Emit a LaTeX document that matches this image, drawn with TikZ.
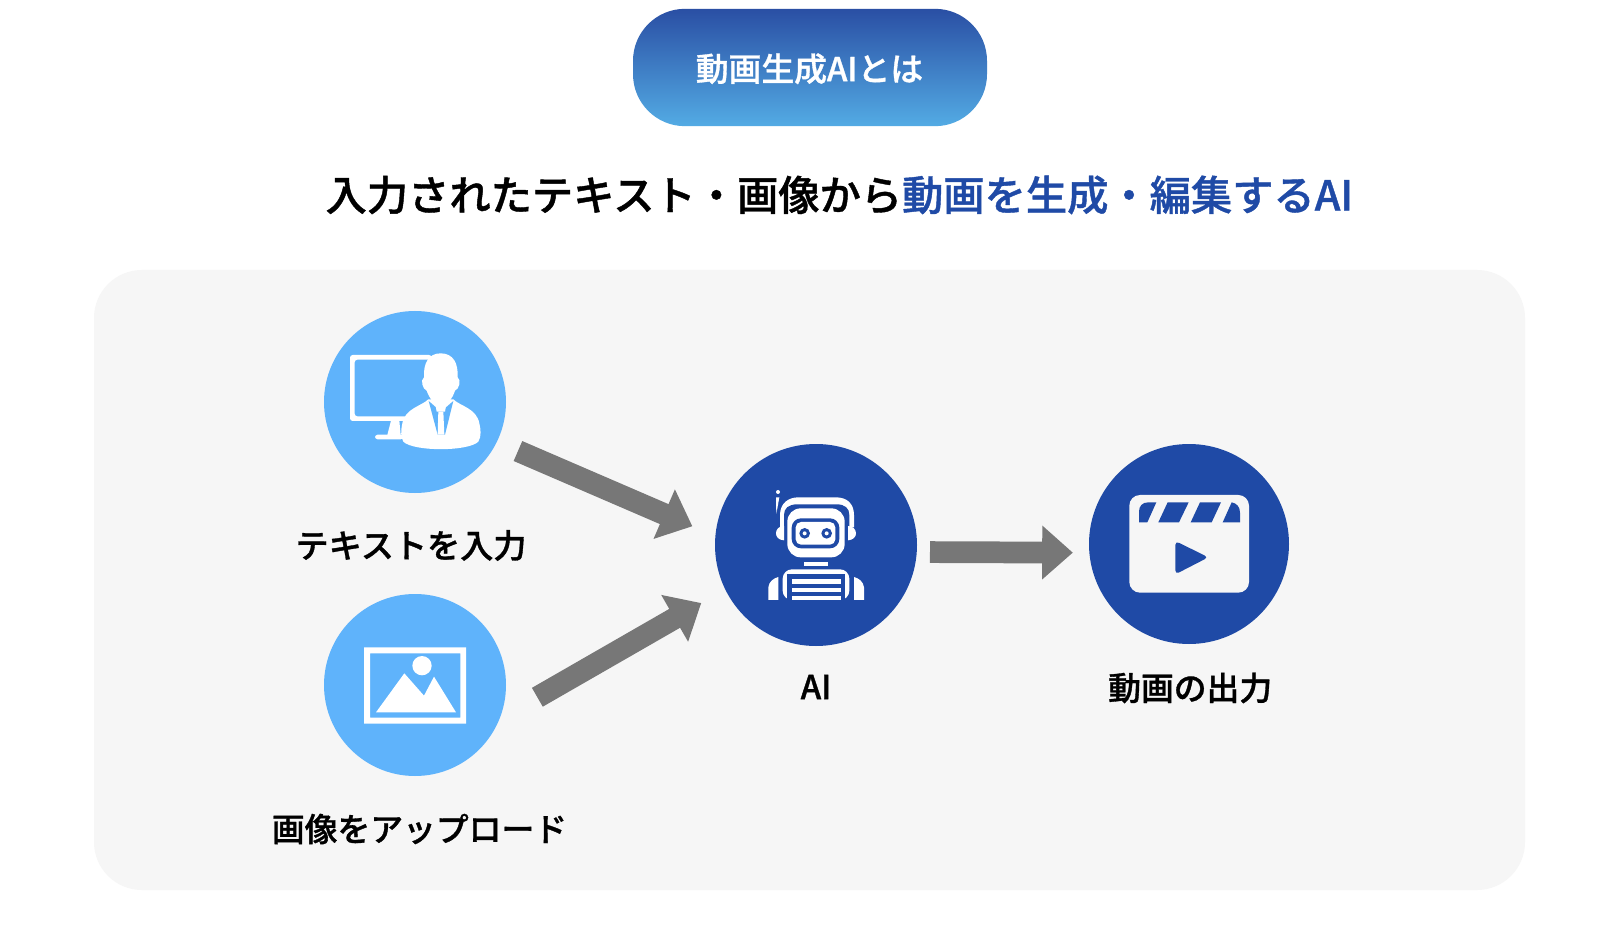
\documentclass[tikz,border=0pt]{standalone}
\usepackage{fontspec}
\setmainfont{Noto Sans CJK JP}[BoldFont={Noto Sans CJK JP Medium},BoldFeatures={FakeBold=1}]
\usetikzlibrary{arrows.meta}
\definecolor{navy}{HTML}{1F4AA6}
\definecolor{sky}{HTML}{5FB3FB}
\definecolor{panel}{HTML}{F6F6F6}
\definecolor{arrowgray}{HTML}{777777}
\definecolor{pilltop}{HTML}{2A4FA4}
\definecolor{pillbot}{HTML}{53ABE4}
\definecolor{titleblue}{HTML}{1F4AA6}
\newcommand{\jpsize}[1]{\fontsize{#1}{#1}\selectfont\bfseries}
\tikzset{
  x=0.75pt,y=-0.75pt,
  disc/.style={circle,inner sep=0pt,outer sep=0pt,draw=none,minimum size=#1*0.75pt},
  lbl/.style={inner sep=0pt,font=\jpsize{24.6pt},text=black},
  bigarrow/.style={draw=arrowgray,line width=16.3pt,-{Triangle[length=23pt,width=39pt]}},
  ico/.style={fill=white,draw=none},
}
\begin{document}
\begin{tikzpicture}
\useasboundingbox (0,0) rectangle (1604,934);
\fill[white] (0,0) rectangle (1604,934);
\fill[panel,rounded corners=36pt] (94,270) rectangle (1525,890);

\node[rounded corners=39pt,top color=pilltop,bottom color=pillbot,minimum width=265.5pt,minimum height=88pt,inner sep=0pt] (pill) at (810,67.5) {};
\node[inner sep=0pt,text=white,font=\jpsize{24.6pt}] (pilltext) at (809.5,68.8) {動画生成AIとは};

\node[inner sep=0pt,font=\jpsize{30.95pt},text=black] (title) at (839.4,195) {入力されたテキスト・画像から\textcolor{titleblue}{動画を生成・編集するAI}};

\node[disc=182,fill=sky] (txt) at (415,402) {};
\node[disc=182,fill=sky] (img) at (415,685) {};
\node[disc=202,fill=navy] (ai) at (816,545) {};
\node[disc=200,fill=navy] (vid) at (1189,544) {};

\node[lbl,font=\jpsize{24.85pt}] (ltxt) at (411,545.5) {テキストを入力};
\node[lbl] (limg) at (419.5,829) {画像をアップロード};
\node[lbl] (lai) at (816,687) {AI};
\node[lbl] (lvid) at (1190.2,688) {動画の出力};

\draw[bigarrow,shorten <=17.3pt,shorten >=18.8pt] (txt.-26.7) -- (ai.175.2);
\draw[bigarrow,shorten <=32.85pt,shorten >=20.74pt] (img.-22.7) -- (ai.206.6);
\draw[bigarrow,shorten <=9.93pt,shorten >=12.4pt] (ai.-4.5) -- (vid.185.2);

% person at monitor icon
\begin{scope}[shift={(310,300)},scale=1/3]
 \fill[ico,rounded corners=2pt,even odd rule] (120,165) rectangle (365,363) (134,179) rectangle (365,349);
 \fill[ico] (243,362) -- (268,362) -- (272,405) -- (232,405) -- cycle;
 \fill[ico,rounded corners=2pt] (195,404) rectangle (280,418);
 \fill[ico] (355,298) .. controls (335,318) and (285,325) .. (277,370) .. controls (272,395) and (272,410) .. (280,425) .. controls (310,455) and (475,455) .. (505,425) .. controls (515,410) and (512,385) .. (508,370) .. controls (500,325) and (450,318) .. (430,298) -- cycle;
 \fill[ico] (392,160) .. controls (355,160) and (340,190) .. (342,232) .. controls (330,240) and (338,268) .. (350,272) .. controls (358,295) and (375,318) .. (392,320) .. controls (410,318) and (428,295) .. (435,272) .. controls (447,268) and (455,240) .. (443,232) .. controls (445,190) and (430,160) .. (392,160) -- cycle;
 \fill[sky] (356,303) -- (378,322) -- (392,330) -- (408,322) -- (430,303) -- (405,404) -- (383,404) -- cycle;
 \fill[ico] (377,318) -- (392,324) -- (408,318) -- (405,335) -- (380,335) -- cycle;
 \fill[ico] (385,335) -- (400,335) -- (403,404) -- (383,404) -- cycle;
\end{scope}

% picture icon
\begin{scope}[shift={(310,585)},scale=1/3]
 \fill[ico,even odd rule] (162,187) rectangle (468,416) (180,205) rectangle (451,398);
 \fill[ico] (198,382) -- (283,265) -- (342,332) -- (372,275) -- (438,382) -- cycle;
 \fill[ico] (336,242) circle[radius=29];
\end{scope}

% robot icon
\begin{scope}[shift={(710,440)},scale=1/3]
 \fill[ico] (204,156) circle[radius=6];
 \fill[ico] (198,172) -- (208,172) -- (199,222) -- cycle;
 \fill[ico] (210,262) -- (210,225) .. controls (210,190) and (235,172) .. (265,172) -- (378,172) .. controls (410,172) and (432,190) .. (432,225) -- (432,262) -- cycle;
 \fill[navy] (222,300) -- (222,225) .. controls (222,205) and (235,193) .. (262,193) -- (380,193) .. controls (405,193) and (418,205) .. (418,225) -- (418,300) -- cycle;
 \fill[ico,rounded corners=10pt] (232,205) rectangle (404,352);
 \fill[navy,rounded corners=7pt] (245,235) rectangle (388,325);
 \fill[ico,rounded corners=4pt] (257,246) rectangle (376,314);
 \fill[navy] (284,280) circle[radius=16];
 \fill[navy] (350,280) circle[radius=16];
 \fill[ico] (284,280) circle[radius=6];
 \fill[ico] (350,280) circle[radius=6];
 \fill[ico] (222,258) .. controls (205,258) and (198,270) .. (198,280) .. controls (198,290) and (205,300) .. (222,301) -- cycle;
 \fill[ico] (414,258) .. controls (430,258) and (438,270) .. (438,280) .. controls (438,290) and (430,300) .. (414,301) -- cycle;
 \fill[ico] (283,365) rectangle (353,378);
 \fill[ico,rounded corners=7pt] (218,480) -- (218,388) -- (418,388) -- (418,480) -- cycle;
 \fill[navy] (232,403) rectangle (405,480);
 \fill[ico] (245,418) rectangle (393,433);
 \fill[ico] (245,443) rectangle (393,456);
 \fill[ico] (245,468) rectangle (393,480);
 \fill[ico] (175,480) -- (175,442) .. controls (177,425) and (190,415) .. (205,411) -- (205,480) -- cycle;
 \fill[ico] (462,480) -- (462,442) .. controls (460,425) and (447,415) .. (432,411) -- (432,480) -- cycle;
\end{scope}

% clapper icon
\begin{scope}[shift={(1085,440)},scale=1/3]
 \fill[panel,rounded corners=8pt] (133,165) rectangle (492,458);
 \fill[navy] (162,247) -- (162,215) .. controls (162,198) and (172,187) .. (190,187) -- (214,187) -- (187,247) -- cycle;
 \fill[navy] (248,187) -- (311,187) -- (282,247) -- (220,247) -- cycle;
 \fill[navy] (345,187) -- (408,187) -- (380,247) -- (317,247) -- cycle;
 \fill[navy] (440,187) .. controls (455,190) and (465,200) .. (465,218) -- (465,247) -- (413,247) -- cycle;
 \fill[navy,rounded corners=3pt] (271,303) -- (370,352) -- (271,403) -- cycle;
\end{scope}
\end{tikzpicture}
\end{document}
